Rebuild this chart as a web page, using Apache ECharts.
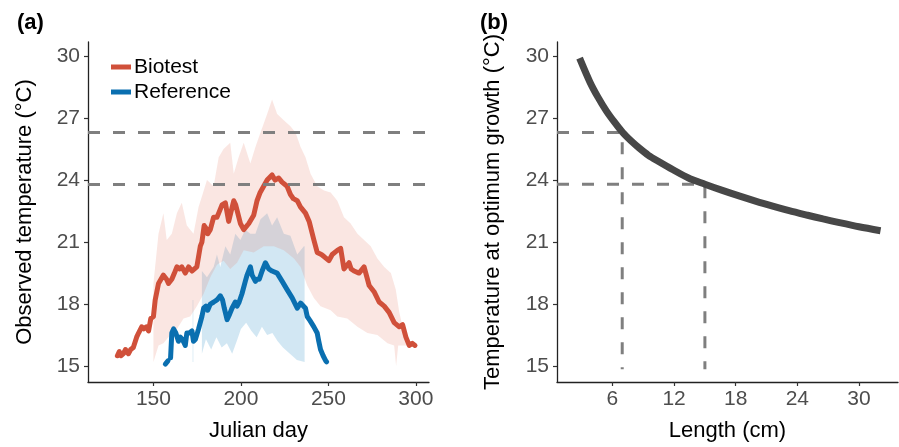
<!DOCTYPE html>
<html style="height: 100%">
<head>
    <meta charset="UTF-8">
    <title>Observed temperature and optimum growth</title>
    <script type="text/javascript" src="https://cdn.jsdelivr.net/npm/echarts@6/dist/echarts.min.js"></script>
</head>
<body style="height: 100%; margin: 0; background: #fff">
    <div id="container" style="width: 899px; height: 447px"></div>

    <script type="text/javascript">
        // ---- panel (a): observed temperature by Julian day ----
        var biotestLine = [[129.4,15.5],[130.5,15.7],[131.5,15.5],[132.8,15.6],[134,15.8],[135.7,15.6],[137,15.8],[138.5,15.9],[140.4,16.4],[141.5,16.6],[143.3,16.9],[144.5,16.8],[146,16.9],[147.2,16.7],[148.5,17.3],[150,17.4],[151,18.2],[152.9,19.0],[155.7,19.4],[157.5,19.2],[158.6,19.0],[160.5,19.2],[162,19.5],[163.4,19.8],[165,19.7],[166.2,19.8],[168.2,19.5],[170.1,19.8],[172,19.6],[174.8,19.8],[176.8,20.8],[177.7,21.0],[179,21.8],[180.6,21.6],[181,21.4],[182.5,21.6],[184.4,22.2],[186.3,22.2],[187.3,22.4],[189.2,22.8],[191.1,22.9],[193,22.0],[195.9,23.0],[197,22.8],[199.7,21.9],[201.6,21.6],[204.5,21.9],[207.3,22.3],[209.2,23.0],[211,23.4],[213,23.7],[215,24.0],[217.8,24.25],[219.5,24.0],[221.6,24.1],[223.5,23.9],[226.4,23.7],[228.3,23.3],[230,23.1],[232.2,23.0],[234,22.7],[236.9,22.4],[239,22.0],[241.7,21.1],[243.6,20.5],[246,20.4],[247.5,20.3],[250.3,20.1],[252.2,20.4],[255.1,20.6],[257,20.7],[258.9,19.7],[261.8,20.0],[263,19.7],[264.7,19.6],[267.5,19.5],[270.4,19.8],[273.3,18.9],[276.1,18.6],[279,18.1],[281.9,17.9],[284.7,17.6],[287.6,17.1],[290.5,16.9],[292.4,17.0],[294.3,16.4],[296.2,16.0],[298,16.1],[299.5,16.0]];

        var referenceLine = [[156.8,15.1],[158.3,15.25],[159,'-'],[159.8,15.4],[160.5,16.6],[161.5,16.8],[162.8,16.6],[164.3,16.2],[165.3,16.4],[166.5,16.3],[168.2,16.0],[169.1,16.6],[170.5,16.6],[172,16.7],[172.9,16.2],[174,16.3],[175.8,16.8],[177.7,17.4],[178.7,17.8],[180,17.9],[181,17.7],[182.5,18.0],[184.5,18.1],[186.3,18.2],[188.2,18.4],[189.5,18.2],[190.5,17.8],[192.1,17.25],[193.5,17.5],[194.9,17.8],[196.8,18.1],[197.8,17.9],[199,18.1],[200.6,18.5],[202.5,19.1],[203.5,19.4],[205.4,19.8],[206.4,19.4],[208.3,19.1],[209.2,19.2],[210.5,19.2],[212.1,19.6],[214,20.0],[215.9,19.7],[217.8,19.6],[218.8,19.6],[220.7,19.5],[223.6,19.1],[226.4,18.7],[229.3,18.3],[232.2,17.8],[234.1,18.05],[235,18.1],[236.9,17.8],[237.9,17.4],[239.5,17.2],[241.7,16.9],[243.6,16.6],[244.5,16.2],[245.5,15.8],[247,15.5],[248.5,15.25],[249,15.2]];

        // ribbons: upper edge then lower edge
        var biotestUpper = [[150,19.0],[152.9,21.4],[155.7,22.4],[157.6,21.1],[160.5,21.4],[163.4,22.4],[166.2,22.9],[169.1,21.8],[172.9,21.4],[175.8,22.7],[177.7,23.2],[180.6,24.0],[184.4,23.7],[187.3,25.1],[190.1,25.5],[193.9,25.8],[195.9,24.3],[198.7,25.1],[201.6,25.8],[205.4,24.8],[208.3,25.6],[211.2,26.3],[215,27.2],[217.8,27.9],[220.7,27.2],[224.5,26.9],[228.3,26.6],[231.2,26.3],[234.1,25.6],[236.9,25.1],[239.8,24.3],[243.6,23.7],[247.5,23.5],[251.3,23.4],[255.1,23.0],[258.9,22.2],[262.7,21.9],[266.6,21.4],[270.4,21.1],[274.2,20.8],[278,20.2],[281.9,19.8],[285.7,19.5],[288.5,18.7],[290.5,17.6],[293.3,16.6],[296.2,16.1]];
        var biotestLower = [[150,15.2],[152.9,16.0],[155.7,16.1],[159.6,16.5],[163.4,16.8],[167.2,17.3],[171,17.4],[174.8,17.9],[178.7,18.5],[182.5,19.3],[186.3,19.9],[190.1,20.1],[193.9,19.7],[197.8,20.0],[201.6,20.6],[207.3,20.5],[213.1,20.8],[218.8,20.8],[224.5,20.6],[230.3,20.2],[234.1,19.8],[237.9,18.9],[241.7,18.3],[245.5,17.9],[251.3,17.7],[255.1,17.4],[260.8,17.3],[266.6,16.9],[272.3,16.6],[278,16.5],[283.8,16.1],[287.6,16.0],[288.7,15.0],[289.9,16.0],[296.2,16.0]];
        var referenceUpper = [[177.7,19.6],[180.6,19.3],[184.4,19.8],[186.3,20.4],[188.2,19.8],[191.1,20.8],[193.9,20.4],[196.8,21.4],[199.7,21.1],[202.5,21.6],[205.4,21.4],[208.3,21.4],[211.2,22.1],[215,22.4],[217.8,21.8],[220.7,22.2],[224.5,21.4],[228.3,21.3],[232.2,20.4],[236,20.8],[236.4,20.8]];
        var referenceLower = [[177.7,15.6],[180,16.3],[183,15.8],[186,16.4],[189,15.9],[192,16.1],[195,15.6],[198,16.3],[200,16.8],[203,17.1],[206,16.7],[209,16.4],[212,16.9],[215,16.5],[218,16.6],[221,16.2],[224,15.9],[228,15.6],[232,15.3],[236.4,15.2]];
        var referenceSliver = [[172.4,18.2],[172.8,18.2],[172.8,15.2],[172.4,15.2]];

        var thresholds = [26.3, 23.8];
        var dayTicks = [150, 200, 250, 300];
        var tempTicks = [15, 18, 21, 24, 27, 30];

        // ---- panel (b): temperature at optimum growth by length ----
        var lengthCm = [2.8, 3.8, 4.6, 5.4, 6.2, 7.0, 7.8, 8.6, 9.5, 10.5, 11.9, 13.4, 15, 16.7, 18.4, 20, 21.6, 23.2, 24.9, 26.5, 28.1, 30, 32.1];
        var optimumTemp = [29.9, 28.75, 28.0, 27.35, 26.8, 26.3, 25.9, 25.55, 25.2, 24.9, 24.5, 24.1, 23.8, 23.5, 23.22, 22.97, 22.74, 22.52, 22.31, 22.12, 21.94, 21.74, 21.55];
        var guideSmall = [[0.6, 26.3], [6.95, 26.3], [6.95, 14.85]];
        var guideLarge = [[0.6, 23.8], [15, 23.8], [15, 14.85]];
        var lengthTicks = [6, 12, 18, 24, 30];

        var RED = '#D0503A';
        var BLUE = '#0A6FB0';
        var FONT = 'Liberation Sans, Arial, sans-serif';

        var dom = document.getElementById('container');
        var myChart = echarts.init(dom, null, { renderer: 'canvas' });

        function ribbon(upper, lower) {
            return upper.concat(lower.slice().reverse());
        }

        function polygonRenderer(points, fill) {
            return function (params, api) {
                if (params.dataIndex !== 0) return;
                var pts = points.map(function (p) { return api.coord(p); });
                return {
                    type: 'polygon',
                    shape: { points: pts },
                    style: { fill: fill }
                };
            };
        }

        function bandSeries(points, fill, idx, z) {
            return {
                type: 'custom',
                xAxisIndex: idx, yAxisIndex: idx,
                silent: true,
                renderItem: polygonRenderer(points, fill),
                encode: { x: 0, y: 1 },
                data: points,
                z: z
            };
        }

        function xAxis(idx, min, max, ticks, name) {
            return {
                type: 'value', gridIndex: idx, min: min, max: max,
                name: name, nameLocation: 'middle', nameGap: 38,
                nameTextStyle: { fontSize: 22, color: '#000', fontFamily: FONT },
                axisLine: { lineStyle: { color: '#222', width: 1.3 } },
                axisTick: { show: true, length: 4, customValues: ticks, lineStyle: { color: '#333', width: 1.2 } },
                axisLabel: { customValues: ticks, fontSize: 21, color: '#4D4D4D', margin: 7, fontFamily: FONT },
                splitLine: { show: false }
            };
        }

        function yAxis(idx, name, gap) {
            return {
                type: 'value', gridIndex: idx, min: 14.23, max: 30.68,
                name: name, nameLocation: 'middle', nameGap: gap,
                nameTextStyle: { fontSize: 22, color: '#000', fontFamily: FONT },
                axisLine: { show: true, lineStyle: { color: '#222', width: 1.3 } },
                axisTick: { show: true, length: 4, customValues: tempTicks, lineStyle: { color: '#333', width: 1.2 } },
                axisLabel: { customValues: tempTicks, fontSize: 21, color: '#4D4D4D', margin: 8, fontFamily: FONT },
                splitLine: { show: false }
            };
        }

        var option = {
            animation: false,
            backgroundColor: '#fff',
            textStyle: { fontFamily: FONT },
            title: [
                { text: '(a)', left: 12, top: 7, textStyle: { fontSize: 22, fontWeight: 'bold', color: '#000', fontFamily: FONT } },
                { text: '(b)', left: 475, top: 7, textStyle: { fontSize: 22, fontWeight: 'bold', color: '#000', fontFamily: FONT } }
            ],
            legend: {
                orient: 'vertical', left: 106, top: 51,
                icon: 'rect', itemWidth: 20, itemHeight: 5, itemGap: 3,
                data: ['Biotest', 'Reference'],
                textStyle: { fontSize: 21, color: '#000', lineHeight: 22, fontFamily: FONT, padding: [0, 0, 0, -2] }
            },
            grid: [
                { left: 88, right: 470, top: 42, bottom: 64 },
                { left: 557, right: 1, top: 42, bottom: 64 }
            ],
            xAxis: [
                xAxis(0, 112.6, 307.5, dayTicks, 'Julian day'),
                xAxis(1, 0.6, 33.8, lengthTicks, 'Length (cm)')
            ],
            yAxis: [
                yAxis(0, 'Observed temperature (\u00B0C)', 52),
                yAxis(1, 'Temperature at optimum growth (\u00B0C)', 53)
            ],
            series: [
                bandSeries(ribbon(referenceUpper, referenceLower), 'rgba(107,174,214,0.3)', 0, 1),
                bandSeries(referenceSliver, 'rgba(107,174,214,0.3)', 0, 1),
                bandSeries(ribbon(biotestUpper, biotestLower), 'rgba(230,120,100,0.19)', 0, 2),
                {
                    name: 'Biotest', type: 'line', xAxisIndex: 0, yAxisIndex: 0,
                    data: biotestLine, showSymbol: false, symbol: 'none', z: 3,
                    lineStyle: { color: RED, width: 5, cap: 'round', join: 'round' },
                    itemStyle: { color: RED },
                    markLine: {
                        silent: true, symbol: 'none', label: { show: false },
                        lineStyle: { color: '#7F7F7F', width: 3, type: [12, 13] },
                        data: thresholds.map(function (t) { return { yAxis: t }; })
                    }
                },
                {
                    name: 'Reference', type: 'line', xAxisIndex: 0, yAxisIndex: 0,
                    data: referenceLine, showSymbol: false, symbol: 'none', z: 3,
                    connectNulls: false,
                    lineStyle: { color: BLUE, width: 5, cap: 'round', join: 'round' },
                    itemStyle: { color: BLUE }
                },
                {
                    type: 'line', xAxisIndex: 1, yAxisIndex: 1, data: guideSmall,
                    symbol: 'none', silent: true, z: 2,
                    lineStyle: { color: '#7F7F7F', width: 3, type: [12, 13] }
                },
                {
                    type: 'line', xAxisIndex: 1, yAxisIndex: 1, data: guideLarge,
                    symbol: 'none', silent: true, z: 2,
                    lineStyle: { color: '#7F7F7F', width: 3, type: [12, 13] }
                },
                {
                    type: 'line', xAxisIndex: 1, yAxisIndex: 1, smooth: 0.3,
                    data: lengthCm.map(function (l, i) { return [l, optimumTemp[i]]; }),
                    symbol: 'none', silent: true, z: 3,
                    lineStyle: { color: '#474747', width: 7, cap: 'butt' }
                }
            ]
        };

        myChart.setOption(option);
    </script>
</body>
</html>
